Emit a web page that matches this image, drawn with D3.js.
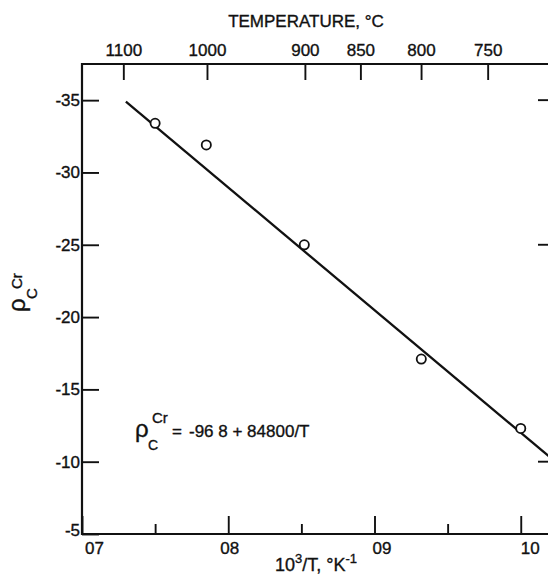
<!DOCTYPE html>
<html><head><meta charset="utf-8">
<script src="https://cdn.jsdelivr.net/npm/d3@7"></script>
<style>
html,body{margin:0;padding:0;background:#fff;}
svg{display:block;font-family:"Liberation Sans",Arial,sans-serif;}
</style></head><body>
<svg id="chart" width="548" height="575"></svg>
<script>
// Reciprocal temperature of each measurement (10^3/T, K^-1)
const invT = [0.750, 0.785, 0.852, 0.932, 1.000];
// Measured ρ_C^Cr at those temperatures
const rho = [-33.4, -31.9, -25.0, -17.1, -12.3];
// Fitted line: ρ = -96.8 + 84800/T  (slope per unit of 10^3/T)
const fitIntercept = -96.8;
const fitSlope = 84.8;
const fitRange = [0.73, 1.02];
// Bottom axis (10^3/T)
const xMajorTicks = [0.7, 0.8, 0.9, 1.0];
const xMajorLabels = ["07", "08", "09", "10"];
const xMinorTicks = [0.75, 0.85, 0.95];
// Left axis (ρ)
const yTicks = [-35, -30, -25, -20, -15, -10, -5];
const yTickLabels = ["-35", "-30", "-25", "-20", "-15", "-10", "-5"];
const yRightTicks = [-35, -25, -10];
// Top axis: temperature, °C
const tempTicks = [1100, 1000, 900, 850, 800, 750];

const svg = d3.select("#chart");
const plotLeft = 82, plotRight = 550, plotTop = 64, plotBottom = 534;

const x = d3.scaleLinear().domain([0.7, 1.02]).range([plotLeft, plotRight]);
const y = d3.scaleLinear().domain([-5, -37.5]).range([plotBottom, plotTop]);

const ink = "#111";
const fs = 17;

// frame
svg.append("path")
  .attr("d", `M${plotLeft},${plotTop}V${plotBottom}H${plotRight}V${plotTop}Z`)
  .attr("fill", "none").attr("stroke", ink).attr("stroke-width", 2.2);

// lettering with a slightly heavier stroke
function letter(sel) {
  return sel.attr("fill", ink).attr("stroke", ink).attr("stroke-width", 0.35);
}

function styleAxis(g) {
  g.select(".domain").remove();
  g.selectAll(".tick line").attr("stroke", ink).attr("stroke-width", 1.9);
  g.selectAll(".tick text").attr("font-size", fs)
    .attr("font-family", "Liberation Sans, Arial, sans-serif").call(letter);
}

// left axis
svg.append("g").attr("transform", `translate(${plotLeft},0)`)
  .call(d3.axisLeft(y).tickValues(yTicks).tickSize(-17).tickPadding(2)
    .tickFormat((d, i) => yTickLabels[i]))
  .call(styleAxis)
  .call(g => g.selectAll(".tick").filter(d => d === -5).select("text").attr("dy", "0.1em"));

// right-side inward ticks
svg.append("g").selectAll("line").data(yRightTicks).join("line")
  .attr("x1", plotRight).attr("x2", plotRight - 12)
  .attr("y1", d => y(d)).attr("y2", d => y(d))
  .attr("stroke", ink).attr("stroke-width", 1.9);

// bottom axis, major ticks with labels
const xLabelNudge = [12, 1, 7, 9];
svg.append("g").attr("transform", `translate(0,${plotBottom})`)
  .call(d3.axisBottom(x).tickValues(xMajorTicks).tickSize(-18).tickPadding(8)
    .tickFormat((d, i) => xMajorLabels[i]))
  .call(styleAxis)
  .call(g => g.selectAll(".tick text").attr("dx", (d, i) => xLabelNudge[i]));

// bottom axis, minor ticks
svg.append("g").attr("transform", `translate(0,${plotBottom})`)
  .call(d3.axisBottom(x).tickValues(xMinorTicks).tickSize(-10).tickFormat(""))
  .call(styleAxis);

// top axis: temperature scale (°C -> 10^3/T)
svg.append("g").attr("transform", `translate(0,${plotTop})`)
  .call(d3.axisTop(x).tickValues(tempTicks.map(c => 1000 / (c + 273.15)))
    .tickSize(-16).tickPadding(8).tickFormat((d, i) => tempTicks[i]))
  .call(styleAxis);

// fitted line
const line = d3.line().x(d => x(d)).y(d => y(fitIntercept + fitSlope * d));
svg.append("path").datum(fitRange)
  .attr("d", line).attr("fill", "none")
  .attr("stroke", ink).attr("stroke-width", 2.3);

// measured points
svg.append("g").selectAll("circle").data(invT).join("circle")
  .attr("cx", d => x(d)).attr("cy", (d, i) => y(rho[i]))
  .attr("r", 4.6).attr("fill", "#fff")
  .attr("stroke", ink).attr("stroke-width", 1.8);

// titles
svg.append("text").attr("x", 306).attr("y", 27).attr("text-anchor", "middle")
  .attr("font-size", fs).call(letter).text("TEMPERATURE, °C");

const xt = svg.append("text").attr("x", 275).attr("y", 571)
  .attr("font-size", 18).call(letter);
xt.append("tspan").text("10");
xt.append("tspan").attr("dy", -8).attr("font-size", 13).text("3");
xt.append("tspan").attr("dy", 8).text("/T, °K");
xt.append("tspan").attr("dy", -8).attr("font-size", 13).text("-1");

// y-axis label ρ_C^Cr, rotated
const yl = svg.append("g").attr("transform", "translate(25,312) rotate(-90)");
yl.append("text").attr("x", 0).attr("y", 0).attr("font-size", 24).call(letter).text("ρ");
yl.append("text").attr("x", 13).attr("y", 12).attr("font-size", 15).call(letter).text("C");
yl.append("text").attr("x", 23).attr("y", -3).attr("font-size", 15).call(letter).text("Cr");

// fitted equation
const eq = svg.append("g");
eq.append("text").attr("x", 135).attr("y", 437).attr("font-size", 24).call(letter).text("ρ");
eq.append("text").attr("x", 148).attr("y", 450).attr("font-size", 14).call(letter).text("C");
eq.append("text").attr("x", 152).attr("y", 423).attr("font-size", 15).call(letter).text("Cr");
eq.append("text").attr("x", 172).attr("y", 437).attr("font-size", fs).call(letter).text("=");
eq.append("text").attr("x", 189).attr("y", 437).attr("font-size", fs).call(letter).text("-96 8 + 84800/T");
</script>
</body></html>
